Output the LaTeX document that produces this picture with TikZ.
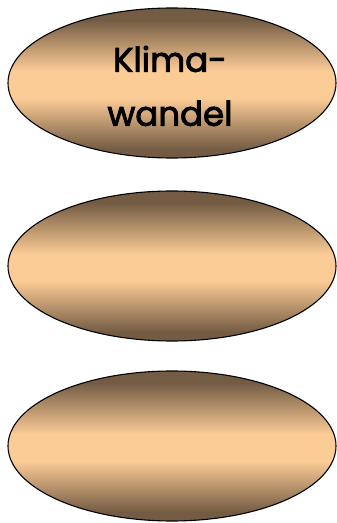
\documentclass[tikz,border=0pt]{standalone}
\usepackage{fontspec}
\newfontfamily\klimafont{Poppins}[FakeBold=2.6]
\usetikzlibrary{shapes.geometric}
\definecolor{brownDark}{RGB}{116,92,68}
\definecolor{peachLight}{RGB}{252,204,150}
\pgfdeclareverticalshading{blobshade}{100bp}{color(0bp)=(brownDark); color(28bp)=(brownDark);
    color(45bp)=(peachLight); color(54bp)=(peachLight); color(71bp)=(brownDark); color(100bp)=(brownDark)}

\begin{document}
\begin{tikzpicture}[x=1pt,y=1pt,
    blob/.style={ellipse, draw=black, line width=1.1pt, inner sep=0pt,
        minimum width=328pt, minimum height=150pt, shading=blobshade},
    blobtext/.style={font=\klimafont\fontsize{34}{54}\selectfont, align=center}]
    \useasboundingbox (0,0) rectangle (337,523);

    \node[blob] (klima) at (172,440) {};
    \node[blob] (leereins) at (172,257) {};
    \node[blob] (leerzwei) at (172,77) {};

    \node[blobtext] (klimatext) at (170,437) {Klima-\\wandel};
\end{tikzpicture}
\end{document}
